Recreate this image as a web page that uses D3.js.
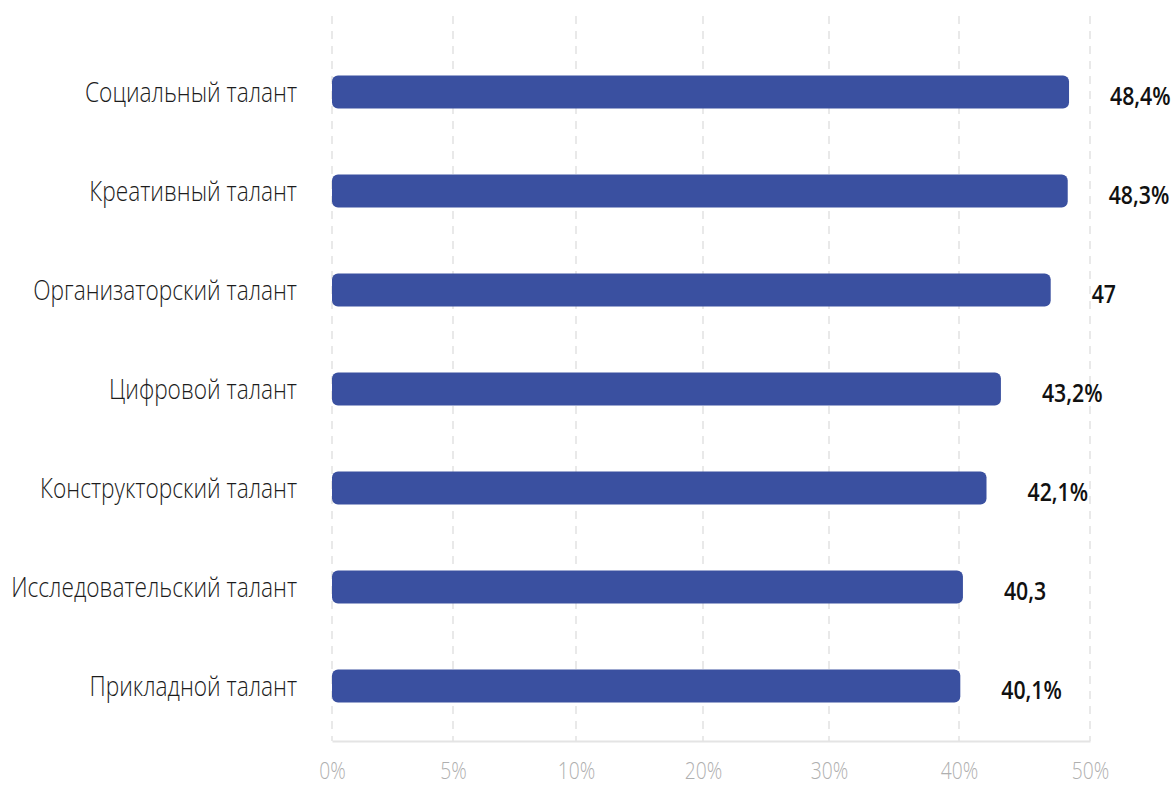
<!DOCTYPE html>
<html lang="ru">
<head>
<meta charset="utf-8">
<script src="https://cdn.jsdelivr.net/npm/d3@7"></script>
<style>
  html, body { margin: 0; padding: 0; background: #fff; }
  svg { display: block; }
</style>
</head>
<body>
<svg id="chart" width="1176" height="786"></svg>
<script>
// Talent categories, share of respondents (%), and value labels as printed
const categories = [
  "Социальный талант",
  "Креативный талант",
  "Организаторский талант",
  "Цифровой талант",
  "Конструкторский талант",
  "Исследовательский талант",
  "Прикладной талант"
];
const values = [48.4, 48.3, 47, 43.2, 42.1, 40.3, 40.1];
const valueLabels = ["48,4%", "48,3%", "47", "43,2%", "42,1%", "40,3", "40,1%"];

// Axis ticks (evenly spaced on the axis, uneven steps in value)
const tickValues = [0, 5, 10, 20, 30, 40, 50];
const tickLabels = ["0%", "5%", "10%", "20%", "30%", "40%", "50%"];

const svg = d3.select("#chart");

const plot = { left: 332, right: 1090, top: 16, bottom: 741 };

// Piecewise-linear x scale: every tick interval gets roughly the same width
const tickPx = [332, 453, 576, 703, 829, 959, 1090];
const x = d3.scaleLinear().domain(tickValues).range(tickPx);

const y = d3.scaleBand()
  .domain(categories)
  .range([42.5, 735.5])
  .paddingInner(0.667)
  .paddingOuter(0.333);

// Dashed vertical gridlines
svg.append("g")
  .selectAll("line")
  .data(tickValues)
  .join("line")
  .attr("x1", d => x(d)).attr("x2", d => x(d))
  .attr("y1", plot.top).attr("y2", plot.bottom)
  .attr("stroke", "#e2e2e2")
  .attr("stroke-width", 1.5)
  .attr("stroke-dasharray", "8,7");

// Bottom axis built with d3.axisBottom
const axis = d3.axisBottom(x)
  .tickValues(tickValues)
  .tickFormat((d, i) => tickLabels[i])
  .tickSize(0)
  .tickPadding(0);

const axisG = svg.append("g")
  .attr("transform", `translate(0,${plot.bottom})`)
  .call(axis);

axisG.select(".domain")
  .attr("stroke", "#e4e4e4")
  .attr("stroke-width", 2);

axisG.selectAll(".tick text")
  .attr("y", 0)
  .attr("dy", 0)
  .attr("transform", "translate(0,38) scale(0.8,1)")
  .attr("fill", "#afafaf")
  .attr("font-family", "'Open Sans', sans-serif")
  .attr("font-weight", 300)
  .attr("font-size", 24)
  .attr("text-anchor", "middle");

// Bars
svg.append("g")
  .selectAll("rect")
  .data(categories)
  .join("rect")
  .attr("x", x(0))
  .attr("y", d => y(d))
  .attr("width", (d, i) => x(values[i]) - x(0))
  .attr("height", y.bandwidth())
  .attr("rx", 6)
  .attr("fill", "#3a50a0");

// Category labels (narrowed letterforms)
svg.append("g")
  .selectAll("text")
  .data(categories)
  .join("text")
  .attr("transform", d => `translate(297,${y(d) + y.bandwidth() / 2 + 10}) scale(0.81,1)`)
  .attr("text-anchor", "end")
  .attr("fill", "#1c1c1c")
  .attr("font-family", "'Open Sans', sans-serif")
  .attr("font-weight", 300)
  .attr("font-size", 28)
  .text(d => d);

// Value labels
svg.append("g")
  .selectAll("text")
  .data(categories)
  .join("text")
  .attr("transform", (d, i) => `translate(${x(values[i]) + 41},${y(d) + y.bandwidth() / 2 + 13}) scale(0.85,1)`)
  .attr("text-anchor", "start")
  .attr("fill", "#111")
  .attr("font-family", "'Open Sans', sans-serif")
  .attr("font-weight", 600)
  .attr("font-size", 25)
  .text((d, i) => valueLabels[i]);
</script>
</body>
</html>
